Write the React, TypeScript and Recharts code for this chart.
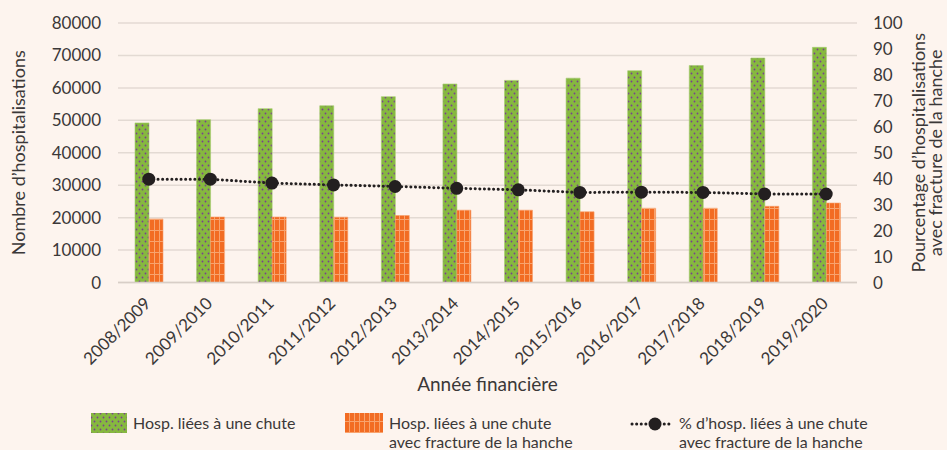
import {
  ComposedChart,
  Bar,
  Line,
  XAxis,
  YAxis,
  CartesianGrid,
} from "recharts";

const years = [
  "2008/2009",
  "2009/2010",
  "2010/2011",
  "2011/2012",
  "2012/2013",
  "2013/2014",
  "2014/2015",
  "2015/2016",
  "2016/2017",
  "2017/2018",
  "2018/2019",
  "2019/2020",
];
const fallHosp = [
  49200, 50200, 53600, 54500, 57300, 61200, 62300, 63000, 65300, 66900, 69200,
  72500,
];
const hipHosp = [
  19600, 20200, 20200, 20150, 20650, 22300, 22300, 21800, 22900, 22900, 23500,
  24500,
];
const hipPct = [
  39.8, 39.8, 38.3, 37.6, 37.0, 36.3, 35.7, 34.7, 34.8, 34.7, 34.1, 34.1,
];
const leftTicks = [0, 10000, 20000, 30000, 40000, 50000, 60000, 70000, 80000];
const rightTicks = [0, 10, 20, 30, 40, 50, 60, 70, 80, 90, 100];

const data = years.map((year, i) => ({
  year,
  fall: fallHosp[i],
  hip: hipHosp[i],
  pct: hipPct[i],
}));

const FONT = "Lato, 'Open Sans', sans-serif";
const TEXT = "#3b3838";
const GREEN = "#86b83f";
const ORANGE = "#f26c23";
const LINE = "#231f20";

function Patterns({ suffix }: { suffix: string }) {
  return (
    <defs>
      <pattern
        id={"dots" + suffix}
        width="6"
        height="8"
        patternUnits="userSpaceOnUse"
      >
        <rect width="6" height="8" fill={GREEN} />
        <circle cx="1.5" cy="1.5" r="0.9" fill="#7a3f8f" />
        <circle cx="4.5" cy="5.5" r="0.9" fill="#7a3f8f" />
      </pattern>
      <pattern
        id={"grid" + suffix}
        width="5"
        height="11"
        patternUnits="userSpaceOnUse"
      >
        <rect width="5" height="11" fill={ORANGE} />
        <line x1="4.5" y1="0" x2="4.5" y2="11" stroke="#f8a36e" strokeWidth="1" />
        <line x1="0" y1="10.5" x2="5" y2="10.5" stroke="#f8a36e" strokeWidth="1" />
      </pattern>
    </defs>
  );
}

function XTick(props: any) {
  const { x, y, payload } = props;
  const ax = x + 3;
  const ay = y + 14;
  return (
    <text
      x={ax}
      y={ay}
      textAnchor="end"
      fontSize={17}
      fontFamily={FONT}
      fill={TEXT}
      transform={`rotate(-45, ${ax}, ${ay})`}
    >
      {payload.value}
    </text>
  );
}

function LeftLabel(props: any) {
  const { viewBox } = props;
  const cy = viewBox.y + viewBox.height / 2;
  return (
    <text
      x={18}
      y={cy}
      textAnchor="middle"
      dominantBaseline="central"
      fontSize={18}
      fontFamily={FONT}
      fill={TEXT}
      transform={`rotate(-90, 18, ${cy})`}
    >
      Nombre d’hospitalisations
    </text>
  );
}

function RightLabel(props: any) {
  const { viewBox } = props;
  const cy = viewBox.y + viewBox.height / 2;
  return (
    <g>
      <text
        x={918}
        y={cy}
        textAnchor="middle"
        dominantBaseline="central"
        fontSize={18}
        fontFamily={FONT}
        fill={TEXT}
        transform={`rotate(-90, 918, ${cy})`}
      >
        Pourcentage d’hospitalisations
      </text>
      <text
        x={935}
        y={cy}
        textAnchor="middle"
        dominantBaseline="central"
        fontSize={18}
        fontFamily={FONT}
        fill={TEXT}
        transform={`rotate(-90, 935, ${cy})`}
      >
        avec fracture de la hanche
      </text>
    </g>
  );
}

function BottomLabel(props: any) {
  const { viewBox } = props;
  const cx = viewBox.x + viewBox.width / 2;
  return (
    <text
      x={cx}
      y={383}
      textAnchor="middle"
      dominantBaseline="central"
      fontSize={19}
      fontFamily={FONT}
      fill={TEXT}
    >
      Année financière
    </text>
  );
}

function ChartLegend() {
  const txt: React.CSSProperties = {
    position: "absolute",
    fontFamily: FONT,
    fontSize: 16,
    color: TEXT,
    lineHeight: "19px",
    height: 19,
    whiteSpace: "nowrap",
  };
  return (
    <>
      <svg
        width={947}
        height={50}
        style={{ position: "absolute", left: 0, top: 400 }}
      >
        <Patterns suffix="L" />
        <rect x={91} y={13} width={36} height={20} fill="url(#dotsL)" />
        <rect x={345} y={13} width={38} height={20} fill="url(#gridL)" />
        <line
          x1={632}
          y1={24}
          x2={673}
          y2={24}
          stroke={LINE}
          strokeWidth={3}
          strokeDasharray="0.1 4.5"
          strokeLinecap="round"
        />
        <circle cx={655} cy={24} r={6.5} fill={LINE} />
      </svg>
      <div style={{ ...txt, left: 133, top: 413 }}>Hosp. liées à une chute</div>
      <div style={{ ...txt, left: 389, top: 413 }}>Hosp. liées à une chute</div>
      <div style={{ ...txt, left: 389, top: 432 }}>avec fracture de la hanche</div>
      <div style={{ ...txt, left: 679, top: 413 }}>% d’hosp. liées à une chute</div>
      <div style={{ ...txt, left: 679, top: 432 }}>avec fracture de la hanche</div>
    </>
  );
}

export default function App() {
  return (
    <div
      style={{
        position: "absolute",
        left: 0,
        top: 0,
        width: 947,
        height: 450,
        background: "#fdf4ee",
        overflow: "hidden",
      }}
    >
      <ComposedChart
        width={947}
        height={400}
        data={data}
        margin={{ top: 23, right: 0, bottom: 0, left: 0 }}
        barGap={0}
      >
        <Patterns suffix="C" />
        <CartesianGrid
          yAxisId="left"
          vertical={false}
          stroke="#e3dad3"
          strokeWidth={1.5}
        />
        <XAxis
          dataKey="year"
          height={117.5}
          interval={0}
          tickLine={false}
          axisLine={{ stroke: "#d8cec7", strokeWidth: 1.5 }}
          tick={<XTick />}
          label={<BottomLabel />}
        />
        <YAxis
          yAxisId="left"
          width={118}
          domain={[0, 80000]}
          ticks={leftTicks}
          axisLine={false}
          tickLine={false}
          tickMargin={11}
          tick={{ fontSize: 17, fontFamily: FONT, fill: TEXT }}
          label={<LeftLabel />}
        />
        <YAxis
          yAxisId="right"
          orientation="right"
          width={90}
          domain={[0, 100]}
          ticks={rightTicks}
          axisLine={false}
          tickLine={false}
          tickMargin={10}
          tick={{ fontSize: 17, fontFamily: FONT, fill: TEXT }}
          label={<RightLabel />}
        />
        <Bar
          yAxisId="left"
          dataKey="fall"
          barSize={14}
          fill="url(#dotsC)"
          stroke="#a6cf6e"
          strokeWidth={0.6}
          isAnimationActive={false}
        />
        <Bar
          yAxisId="left"
          dataKey="hip"
          barSize={14}
          fill="url(#gridC)"
          stroke="#f7a06b"
          strokeWidth={0.6}
          isAnimationActive={false}
        />
        <Line
          yAxisId="right"
          dataKey="pct"
          type="linear"
          stroke={LINE}
          strokeWidth={3}
          strokeDasharray="0.1 4.5"
          strokeLinecap="round"
          dot={{ r: 6.5, fill: LINE, stroke: LINE, strokeWidth: 0 }}
          activeDot={false}
          isAnimationActive={false}
        />
      </ComposedChart>
      <ChartLegend />
    </div>
  );
}
